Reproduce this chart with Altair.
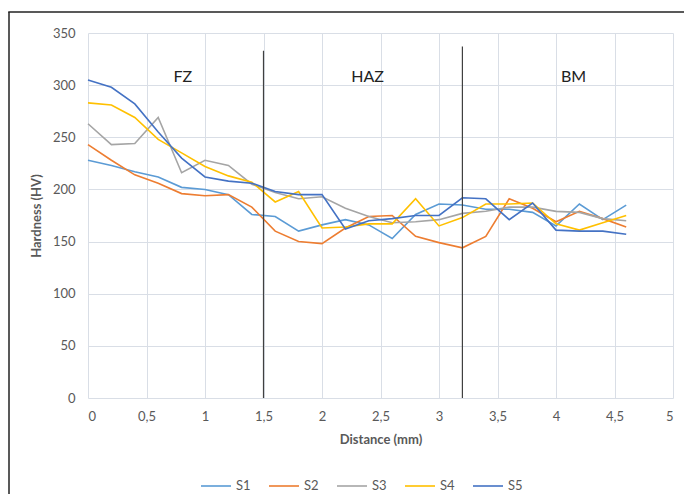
import altair as alt
import pandas as pd

distance = [0, 0.2, 0.4, 0.6, 0.8, 1.0, 1.2, 1.4, 1.6, 1.8, 2.0, 2.2, 2.4, 2.6,
            2.8, 3.0, 3.2, 3.4, 3.6, 3.8, 4.0, 4.2, 4.4, 4.6]
s1 = [228, 223, 217, 212, 202, 200, 195, 176, 174, 160, 166, 171, 166, 153,
      176, 186, 185, 181, 181, 178, 165, 186, 171, 185]
s2 = [243, 228, 214, 206, 196, 194, 195, 183, 160, 150, 148, 163, 174, 175,
      155, 149, 144, 155, 191, 182, 169, 179, 172, 164]
s3 = [263, 243, 244, 269, 216, 228, 223, 205, 197, 191, 193, 182, 174, 168,
      169, 171, 177, 179, 183, 183, 179, 178, 172, 170]
s4 = [283, 281, 269, 248, 235, 222, 213, 207, 188, 198, 163, 164, 167, 167,
      191, 165, 173, 186, 186, 187, 167, 161, 168, 175]
s5 = [305, 298, 282, 255, 230, 212, 208, 206, 198, 195, 195, 162, 170, 172,
      175, 175, 192, 191, 171, 187, 161, 160, 160, 157]
series_names = ["S1", "S2", "S3", "S4", "S5"]
series_colors = ["#5B9BD5", "#ED7D31", "#A5A5A5", "#FFC000", "#4472C4"]

zone_labels = ["FZ", "HAZ", "BM"]
zone_x = [0.81, 2.39, 4.15]
zone_y = [308, 308, 308]
boundary_x = [1.5, 3.2]
boundary_top = [333, 337]

rows = []
for name, vals in zip(series_names, [s1, s2, s3, s4, s5]):
    for d, v in zip(distance, vals):
        rows.append({"Distance": d, "Hardness": v, "Series": name})
df = pd.DataFrame(rows)
zones = pd.DataFrame({"label": zone_labels, "x": zone_x, "y": zone_y})
bounds = pd.DataFrame({"x": boundary_x, "top": boundary_top, "bottom": [0, 0]})

FONT = "Lato"
xscale = alt.Scale(domain=[0, 5], nice=False)
yscale = alt.Scale(domain=[0, 350], nice=False)

lines = alt.Chart(df).mark_line(strokeWidth=1.6).encode(
    x=alt.X("Distance:Q", scale=xscale,
            axis=alt.Axis(title="Distance (mm)", values=[0, 0.5, 1, 1.5, 2, 2.5, 3, 3.5, 4, 4.5, 5],
                          labelExpr="replace(toString(datum.value), '.', ',')",
                          grid=True, gridColor="#D9DEE6", domain=False, ticks=False,
                          labelColor="#595959", labelFontSize=13, labelFont=FONT, labelPadding=12,
                          titleFont=FONT, titleFontSize=13, titleColor="#595959",
                          titleFontWeight="bold", titlePadding=10)),
    y=alt.Y("Hardness:Q", scale=yscale,
            axis=alt.Axis(title="Hardness (HV)", values=list(range(0, 351, 50)),
                          grid=True, gridColor="#D9DEE6", domain=False, ticks=False,
                          labelColor="#595959", labelFontSize=13, labelFont=FONT, labelPadding=13,
                          titleFont=FONT, titleFontSize=13, titleColor="#595959",
                          titleFontWeight="bold", titlePadding=9)),
    color=alt.Color("Series:N",
                    scale=alt.Scale(domain=series_names, range=series_colors),
                    legend=alt.Legend(title=None, orient="none", direction="horizontal",
                                      legendX=112, legendY=437,
                                      symbolType="stroke", symbolStrokeWidth=1.6,
                                      symbolSize=900, columnPadding=14, labelOffset=4,
                                      labelFont=FONT, labelFontSize=13, labelColor="#595959")),
)

rules = alt.Chart(bounds).mark_rule(color="#404040", strokeWidth=1.2).encode(
    x="x:Q", y="top:Q", y2="bottom:Q"
)

texts = alt.Chart(zones).mark_text(fontSize=16, font=FONT, color="#222222").encode(
    x="x:Q", y="y:Q", text="label:N"
)

frame_src = pd.DataFrame({"a": [0]})
frame_left = alt.Chart(frame_src).mark_rule(color="#222222", strokeWidth=1.5).encode(
    x=alt.value(-79), y=alt.value(-21), y2=alt.value(480)
)
frame_top = alt.Chart(frame_src).mark_rect(color="#222222").encode(
    x=alt.value(-79.75), x2=alt.value(596), y=alt.value(-21.75), y2=alt.value(-20.25)
)

chart = alt.layer(frame_left, frame_top, lines, rules, texts).properties(
    width=585, height=365,
    padding={"left": 80, "top": 25, "right": 11, "bottom": 96},
    autosize=alt.AutoSizeParams(type="none"),
    background="white",
).configure_view(stroke=None)

chart.save("out.html", embed_options={"renderer": "svg", "actions": False})
